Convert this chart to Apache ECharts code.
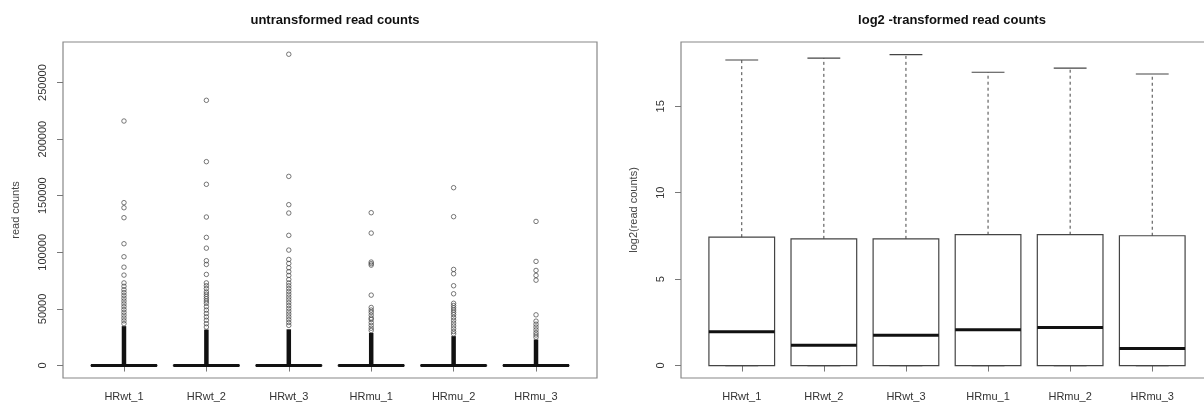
<!DOCTYPE html>
<html>
<head>
<meta charset="utf-8">
<title>read counts</title>
<script src="https://cdn.jsdelivr.net/npm/echarts@6/dist/echarts.min.js"></script>
<style>
html, body { margin: 0; padding: 0; background: #fff; }
#main { width: 1204px; height: 408px; }
</style>
</head>
<body>
<div id="main"></div>
<script>
// samples, box i sits at x = i (like R's boxplot)
var samples = ['HRwt_1', 'HRwt_2', 'HRwt_3', 'HRmu_1', 'HRmu_2', 'HRmu_3'];

// untransformed counts - the box collapses onto 0 at this scale
var countMin = [0, 0, 0, 0, 0, 0];
var countQ1 = [0, 0, 0, 0, 0, 0];
var countMedian = [3, 1, 2, 3, 4, 1];
var countQ3 = [172, 160, 160, 189, 189, 181];
var countUpper = [430, 400, 400, 470, 470, 450];
// top of the solid black run of overlapping outliers
var countDenseTop = [34800, 31800, 32000, 28900, 26000, 23000];
// outliers above it that can still be told apart
var countOutliers = [
    [216000, 143900, 139400, 130600, 107600, 96100, 86900, 79900, 73000, 70000, 67000, 64500, 62000, 59500, 57000, 54500, 52000, 49500, 47000, 44500, 42000, 39500, 37000],
    [234300, 180100, 160100, 131200, 113200, 103700, 92600, 89300, 80500, 73000, 70500, 68000, 65000, 63000, 61000, 59000, 57000, 55000, 52000, 49000, 46000, 43000, 40000, 37000, 34000],
    [275000, 167100, 142100, 134700, 115000, 102000, 93700, 90200, 86400, 82900, 79600, 76000, 73000, 70500, 68000, 65500, 63000, 60500, 58000, 55500, 53000, 50500, 48000, 45500, 43000, 40500, 38000, 35500],
    [135000, 117000, 91400, 90000, 88700, 62200, 51300, 49000, 47000, 44500, 42000, 40700, 38000, 35500, 33000, 31000],
    [157100, 131500, 84900, 81100, 70500, 63400, 55000, 53000, 51000, 49000, 47000, 45000, 42500, 40000, 37500, 35000, 32500, 30000, 28000],
    [127300, 92000, 84000, 79600, 75400, 44800, 39200, 36500, 34000, 31500, 29000, 27000, 25000]
];
var countTicks = [0, 50000, 100000, 150000, 200000, 250000];

// log2 counts
var logMin = [0, 0, 0, 0, 0, 0];
var logQ1 = [0, 0, 0, 0, 0, 0];
var logMedian = [1.95, 1.18, 1.76, 2.07, 2.20, 0.98];
var logQ3 = [7.43, 7.33, 7.33, 7.57, 7.57, 7.51];
var logMax = [17.68, 17.79, 17.99, 16.97, 17.21, 16.87];
var logTicks = [0, 5, 10, 15];

var sampleTicks = samples.map(function (s, i) { return i + 1; });
var font = "'Liberation Sans', Arial, sans-serif";

function boxRows(mins, q1s, meds, q3s, maxs) {
    return samples.map(function (s, i) {
        return [i + 1, mins[i], q1s[i], meds[i], q3s[i], maxs[i]];
    });
}

// R style box: dashed whiskers, solid staples, thick median
function renderBox(params, api) {
    var x = api.value(0);
    var lo = api.coord([x, api.value(1)]);
    var q1 = api.coord([x, api.value(2)]);
    var md = api.coord([x, api.value(3)]);
    var q3 = api.coord([x, api.value(4)]);
    var hi = api.coord([x, api.value(5)]);
    var unit = api.size([1, 0])[0];
    var half = unit * 0.4, cap = unit * 0.2;
    var cx = md[0];
    var thin = { stroke: '#444', lineWidth: 1.2, fill: null };
    var dash = { stroke: '#444', lineWidth: 1, lineDash: [3, 3] };
    return {
        type: 'group',
        children: [
            { type: 'line', shape: { x1: cx, y1: q3[1], x2: cx, y2: hi[1] }, style: dash },
            { type: 'line', shape: { x1: cx, y1: q1[1], x2: cx, y2: lo[1] }, style: dash },
            { type: 'line', shape: { x1: cx - cap, y1: hi[1], x2: cx + cap, y2: hi[1] }, style: thin },
            { type: 'line', shape: { x1: cx - cap, y1: lo[1], x2: cx + cap, y2: lo[1] }, style: thin },
            { type: 'rect', shape: { x: cx - half, y: q3[1], width: half * 2, height: q1[1] - q3[1] }, style: thin },
            { type: 'line', shape: { x1: cx - half, y1: md[1], x2: cx + half, y2: md[1] }, style: { stroke: '#111', lineWidth: 3 } }
        ]
    };
}

function sampleAxis(gridIndex) {
    return {
        type: 'value', gridIndex: gridIndex, min: 0.26, max: 6.74,
        axisLine: { show: false },
        splitLine: { show: false },
        axisTick: { show: true, length: 6, customValues: sampleTicks, lineStyle: { color: '#777' } },
        axisLabel: {
            customValues: sampleTicks, margin: 13, fontSize: 11, color: '#333', fontFamily: font,
            formatter: function (v) { return samples[v - 1]; }
        }
    };
}

function valueAxis(gridIndex, min, max, ticks, name) {
    return {
        type: 'value', gridIndex: gridIndex, min: min, max: max,
        name: name, nameLocation: 'middle', nameGap: 42,
        nameTextStyle: { fontSize: 11, color: '#444', fontFamily: font },
        axisLine: { show: false },
        splitLine: { show: false },
        axisTick: { show: true, length: 6, customValues: ticks, lineStyle: { color: '#777' } },
        axisLabel: {
            customValues: ticks, rotate: 90, margin: 15, fontSize: 11, color: '#333', fontFamily: font,
            formatter: function (v) { return String(v); }
        }
    };
}

var outlierPoints = [];
countOutliers.forEach(function (list, i) {
    list.forEach(function (v) { outlierPoints.push([i + 1, v]); });
});

var myChart = echarts.init(document.getElementById('main'), null, { renderer: 'canvas' });
var option = {
    animation: false,
    backgroundColor: '#fff',
    title: [
        { text: 'untransformed read counts', left: 330, top: 9, textAlign: 'center',
          textStyle: { fontSize: 13, fontWeight: 'bold', color: '#111', fontFamily: font } },
        { text: 'log2 -transformed read counts', left: 947, top: 9, textAlign: 'center',
          textStyle: { fontSize: 13, fontWeight: 'bold', color: '#111', fontFamily: font } }
    ],
    grid: [
        { left: 63, top: 42, width: 534, height: 336, show: true, borderColor: '#888', borderWidth: 1.2,
          outerBoundsMode: 'none' },
        // the right panel runs past the edge of the picture, as in the original
        { left: 681, top: 42, width: 532, height: 336, show: true, borderColor: '#888', borderWidth: 1.2,
          outerBoundsMode: 'none' }
    ],
    xAxis: [sampleAxis(0), sampleAxis(1)],
    yAxis: [
        valueAxis(0, -11000, 285800, countTicks, 'read counts'),
        valueAxis(1, -0.72, 18.72, logTicks, 'log2(read counts)')
    ],
    series: [
        {
            type: 'custom', xAxisIndex: 0, yAxisIndex: 0,
            renderItem: renderBox,
            encode: { x: 0, y: [1, 2, 3, 4, 5] },
            data: boxRows(countMin, countQ1, countMedian, countQ3, countUpper)
        },
        {
            type: 'bar', xAxisIndex: 0, yAxisIndex: 0, barWidth: 4.5,
            itemStyle: { color: '#111' },
            data: countDenseTop.map(function (v, i) { return [i + 1, v]; })
        },
        {
            type: 'scatter', xAxisIndex: 0, yAxisIndex: 0,
            symbol: 'circle', symbolSize: 4.5,
            itemStyle: { color: 'rgba(0,0,0,0)', borderColor: '#444', borderWidth: 0.9 },
            data: outlierPoints
        },
        {
            type: 'custom', xAxisIndex: 1, yAxisIndex: 1,
            renderItem: renderBox,
            encode: { x: 0, y: [1, 2, 3, 4, 5] },
            data: boxRows(logMin, logQ1, logMedian, logQ3, logMax)
        }
    ]
};
myChart.setOption(option);
</script>
</body>
</html>
